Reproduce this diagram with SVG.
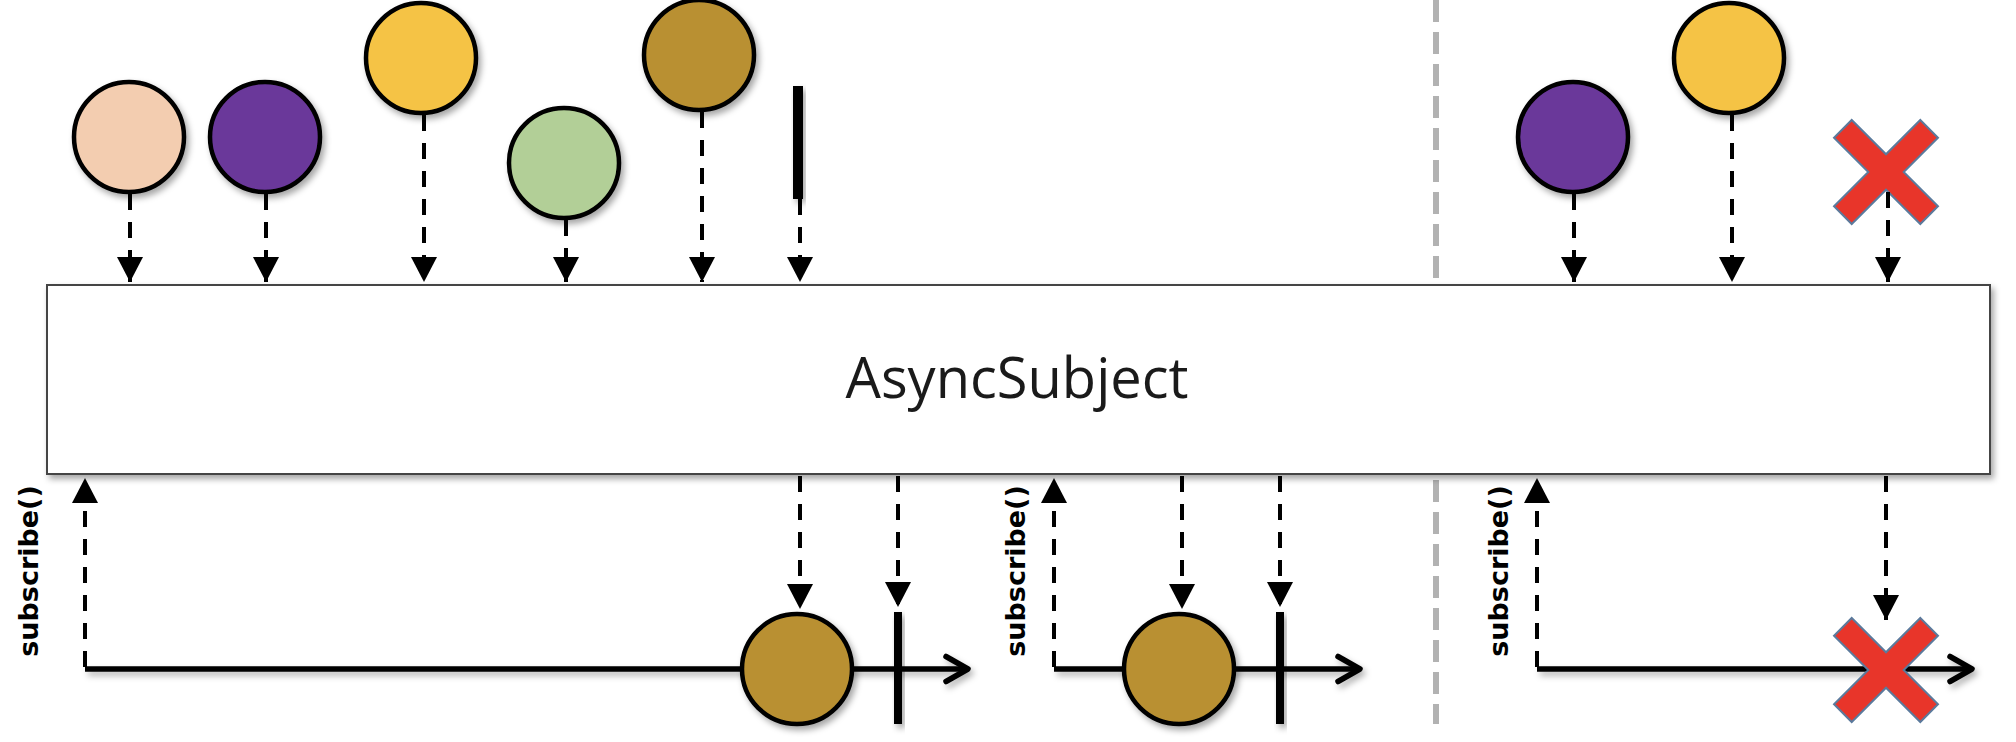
<svg xmlns="http://www.w3.org/2000/svg" width="2016" height="742" viewBox="0 0 2016 742">
<defs>
  <filter id="sh" x="-20%" y="-20%" width="150%" height="160%">
    <feDropShadow dx="3" dy="4" stdDeviation="3" flood-color="#000" flood-opacity="0.35"/>
  </filter>
  <filter id="shl" filterUnits="userSpaceOnUse" x="0" y="0" width="2016" height="742">
    <feDropShadow dx="3" dy="4" stdDeviation="3" flood-color="#000" flood-opacity="0.3"/>
  </filter>
  <marker id="ah" markerUnits="userSpaceOnUse" markerWidth="25" markerHeight="26" viewBox="0 0 25 26" refX="25" refY="13" orient="auto">
    <path d="M0,0 L25,13 L0,26 z" fill="#000"/>
  </marker>
  <marker id="chev" markerUnits="userSpaceOnUse" markerWidth="40" markerHeight="40" viewBox="-5 -5 40 40" refX="25" refY="12.5" orient="auto" overflow="visible">
    <path d="M3,0 L25,12.5 L3,25" fill="none" stroke="#000" stroke-width="5.5" stroke-linejoin="round" stroke-linecap="round"/>
  </marker>
  <polygon id="xshape" points="-12.5,-61 12.5,-61 12.5,-12.5 61,-12.5 61,12.5 12.5,12.5 12.5,61 -12.5,61 -12.5,12.5 -61,12.5 -61,-12.5 -12.5,-12.5" transform="rotate(45)"/>
</defs>
<style>
  .c { stroke: #000; stroke-width: 4.5; filter: url(#sh); }
  .d { stroke: #000; stroke-width: 4; stroke-dasharray: 16 12; fill: none; marker-end: url(#ah); }
  .tl { stroke: #000; stroke-width: 5.5; fill: none; marker-end: url(#chev); filter: url(#shl); }
  .bar { fill: #000; filter: url(#sh); }
  .x { fill: #e8352a; stroke: #5b7a9c; stroke-width: 2; }
  .sub { font-family: "DejaVu Sans", Verdana, sans-serif; font-weight: bold; font-size: 27px; fill: #000; }
</style>

<!-- separator -->
<line id="separator" x1="1436" y1="0" x2="1436" y2="724" stroke="#b2b2b2" stroke-width="6" stroke-dasharray="22 10"/>

<!-- main box -->
<g id="asyncsubject">
  <rect x="47" y="285" width="1943" height="189" fill="#fff" stroke="#444" stroke-width="2" filter="url(#sh)"/>
  <text x="1017" y="398" text-anchor="middle" font-family="'Open Sans', 'Liberation Sans', sans-serif" font-size="56" fill="#1a1a1a">AsyncSubject</text>
</g>

<!-- source items -->
<g id="src-peach"><circle class="c" cx="129" cy="137" r="55" fill="#f3cdb0"/></g>
<g id="src-purple"><circle class="c" cx="265" cy="137" r="55" fill="#6a389a"/></g>
<g id="src-yellow"><circle class="c" cx="421" cy="58" r="55" fill="#f5c344"/></g>
<g id="src-green"><circle class="c" cx="564" cy="163" r="55" fill="#b2cf97"/></g>
<g id="src-gold"><circle class="c" cx="699" cy="55" r="55" fill="#b99033"/></g>
<g id="src-complete"><rect class="bar" x="793" y="86" width="10" height="113"/></g>
<g id="src-purple2"><circle class="c" cx="1573" cy="137" r="55" fill="#6a389a"/></g>
<g id="src-yellow2"><circle class="c" cx="1729" cy="58" r="55" fill="#f5c344"/></g>
<g id="src-error"><use href="#xshape" class="x" transform="translate(1886,172)"/></g>

<!-- subscriber 1 -->
<g id="sub1">
  <text class="sub" transform="translate(38,571) rotate(-90)" text-anchor="middle">subscribe()</text>
  <line class="tl" x1="85" y1="669" x2="968" y2="669"/>
  <circle class="c" cx="797" cy="669" r="55" fill="#b99033"/>
  <rect class="bar" x="894" y="612" width="8" height="112"/>
</g>

<!-- subscriber 2 -->
<g id="sub2">
  <text class="sub" transform="translate(1025,571) rotate(-90)" text-anchor="middle">subscribe()</text>
  <line class="tl" x1="1054" y1="669" x2="1360" y2="669"/>
  <circle class="c" cx="1179" cy="669" r="55" fill="#b99033"/>
  <rect class="bar" x="1276" y="612" width="8" height="112"/>
</g>

<!-- subscriber 3 -->
<g id="sub3">
  <text class="sub" transform="translate(1508,571) rotate(-90)" text-anchor="middle">subscribe()</text>
  <line class="tl" x1="1537" y1="669" x2="1972" y2="669"/>
  <use href="#xshape" class="x" transform="translate(1886,670)"/>
</g>

<!-- connectors -->
<g id="connectors">
  <line class="d" x1="130" y1="194" x2="130" y2="282"/>
  <line class="d" x1="266" y1="194" x2="266" y2="282"/>
  <line class="d" x1="424" y1="115" x2="424" y2="282"/>
  <line class="d" x1="566" y1="220" x2="566" y2="282"/>
  <line class="d" x1="702" y1="112" x2="702" y2="282"/>
  <line class="d" x1="800" y1="199" x2="800" y2="282"/>
  <line class="d" x1="1574" y1="194" x2="1574" y2="282"/>
  <line class="d" x1="1732" y1="115" x2="1732" y2="282"/>
  <line class="d" x1="1888" y1="192" x2="1888" y2="282"/>
  <line class="d" x1="85" y1="667" x2="85" y2="478"/>
  <line class="d" x1="1054" y1="667" x2="1054" y2="478"/>
  <line class="d" x1="1537" y1="667" x2="1537" y2="478"/>
  <line class="d" x1="800" y1="476" x2="800" y2="609"/>
  <line class="d" x1="898" y1="476" x2="898" y2="607"/>
  <line class="d" x1="1182" y1="476" x2="1182" y2="609"/>
  <line class="d" x1="1280" y1="476" x2="1280" y2="607"/>
  <line class="d" x1="1886" y1="476" x2="1886" y2="620"/>
</g>
</svg>
